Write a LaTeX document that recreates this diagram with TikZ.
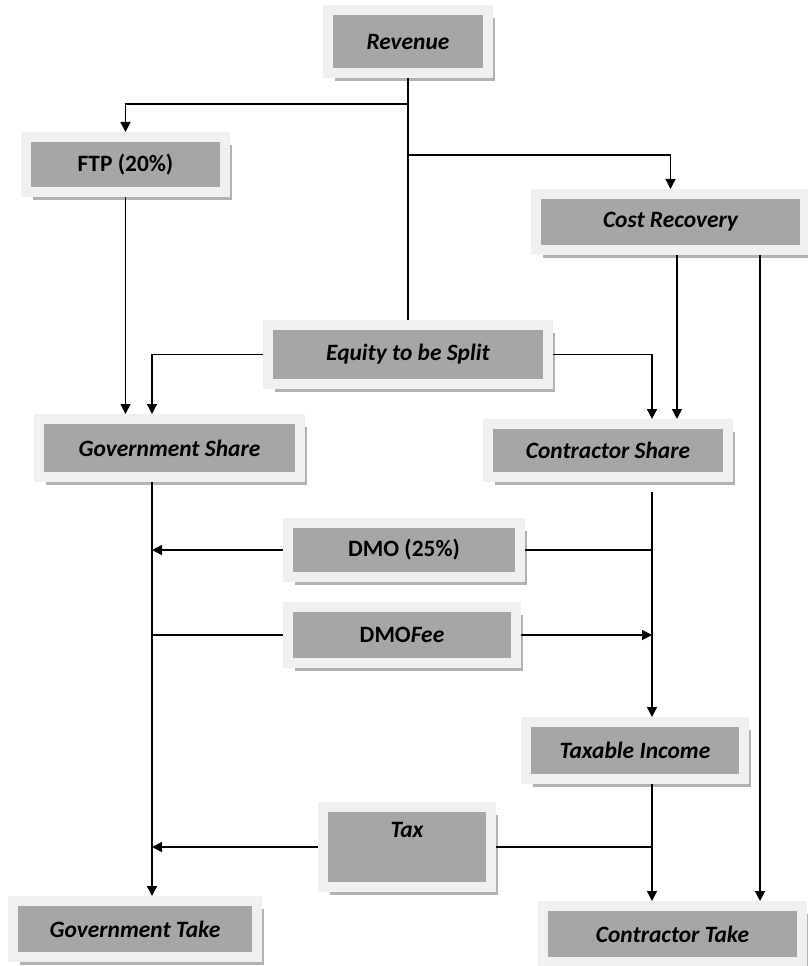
\documentclass[tikz,border=0pt]{standalone}
\usepackage{fontspec}
\setmainfont{Carlito}
\usepackage{tikz}
\usetikzlibrary{arrows.meta,positioning,shadows}
\definecolor{psaBox}{HTML}{A6A6A6}
\definecolor{psaFrame}{HTML}{F0F0F0}
\definecolor{psaShadow}{HTML}{B2B2B2}
\tikzset{
  flowbox/.style={rectangle,fill=psaBox,draw=psaFrame,line width=3mm,inner sep=0pt,
    drop shadow={shadow xshift=2.1mm,shadow yshift=-2.4mm,fill=psaShadow,opacity=1},
    font=\fontsize{20}{23}\selectfont\bfseries\itshape,align=center},
  flowplain/.style={flowbox,font=\fontsize{20}{23}\selectfont\bfseries},
  line/.style={line width=0.4mm},
  arrow/.style={-{Triangle[length=3mm,width=3mm]},line width=0.4mm}
}

\begin{document}
\begin{tikzpicture}[x=0.3mm,y=-0.3mm]
  \useasboundingbox (0,0) rectangle (807,966);
  \node[flowbox,minimum width=48mm,minimum height=18.9mm] (rev) at (408,41.5) {Revenue};
  \node[flowplain,minimum width=59.7mm,minimum height=16.5mm] (ftp) at (125.5,164.5) {FTP (20\%)};
  \node[flowbox,minimum width=80.7mm,minimum height=16.8mm] (cost) at (670.5,222) {Cost Recovery};
  \node[flowbox,minimum width=84mm,minimum height=17.7mm] (equity) at (408,354.5) {Equity to be Split};
  \node[flowbox,minimum width=78.3mm,minimum height=17.4mm] (govshare) at (169.5,448) {Government Share};
  \node[flowbox,minimum width=72mm,minimum height=15.9mm] (conshare) at (608,450.5) {Contractor Share};
  \node[flowplain,minimum width=69.6mm,minimum height=16.2mm] (dmo) at (404,550) {DMO (25\%)};
  \node[flowplain,minimum width=68.4mm,minimum height=16.8mm] (dmofee) at (402,635) {DMO\textit{Fee}};
  \node[flowbox,minimum width=65.4mm,minimum height=17.1mm] (taxable) at (635,750.5) {Taxable Income};
  \node[flowbox,minimum width=50.4mm,minimum height=24mm,text depth=10.5mm] (tax) at (407,847) {Tax};
  \node[flowbox,minimum width=73.2mm,minimum height=16.8mm] (govtake) at (135,929) {Government Take};
  \node[flowbox,minimum width=77.7mm,minimum height=16.8mm] (contake) at (672.5,934) {Contractor Take};

  % trunks and split points
  \coordinate (lx) at (152,0);
  \coordinate (rx) at (652,0);
  \coordinate (cxa) at (677,0);
  \coordinate (cxb) at (760,0);
  \coordinate (splitA) at (408,104);
  \coordinate (splitB) at (408,155);

  \draw[line] (rev) -- (equity);
  \draw[arrow] (splitA) -| (ftp);
  \draw[arrow] (splitB) -| (cost);
  \draw[arrow] (ftp) -- (ftp |- govshare.north);
  \draw[arrow] (equity.west) -| (govshare.north -| lx);
  \draw[arrow] (equity.east) -| (conshare.north -| rx);
  \draw[arrow] (cost.south -| cxa) -- (conshare.north -| cxa);
  \draw[arrow] (cost.south -| cxb) -- (contake.north -| cxb);
  \draw[arrow] (govshare.south -| lx) -- (govtake.north -| lx);
  \draw[arrow] ([yshift=-3mm]conshare.south -| rx) -- (taxable.north -| rx);
  \draw[arrow] (taxable.south -| rx) -- (contake.north -| rx);
  \draw[line] (rx |- dmo) -- (dmo);
  \draw[arrow] (dmo) -- (lx |- dmo);
  \draw[line] (lx |- dmofee) -- (dmofee);
  \draw[arrow] (dmofee) -- (rx |- dmofee);
  \draw[line] (rx |- tax) -- (tax);
  \draw[arrow] (tax) -- (lx |- tax);
\end{tikzpicture}
\end{document}
